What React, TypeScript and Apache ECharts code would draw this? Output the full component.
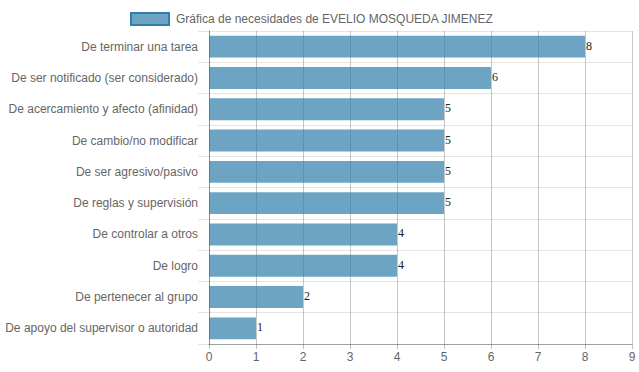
import React, { useEffect, useRef } from "react";
import * as echarts from "echarts";

const categories = [
  "De terminar una tarea",
  "De ser notificado (ser considerado)",
  "De acercamiento y afecto (afinidad)",
  "De cambio/no modificar",
  "De ser agresivo/pasivo",
  "De reglas y supervisión",
  "De controlar a otros",
  "De logro",
  "De pertenecer al grupo",
  "De apoyo del supervisor o autoridad",
];
const values = [8, 6, 5, 5, 5, 5, 4, 4, 2, 1];
const seriesName = "Gráfica de necesidades de EVELIO MOSQUEDA JIMENEZ";
const xTicks = [0, 1, 2, 3, 4, 5, 6, 7, 8, 9];

const FONT = "'Liberation Sans', Arial, Helvetica, sans-serif";

export default function App() {
  const ref = useRef<HTMLDivElement>(null);
  useEffect(() => {
    if (!ref.current) return;
    const chart = echarts.init(ref.current, null, { renderer: "svg" });
    chart.setOption({
      animation: false,
      textStyle: { fontFamily: FONT },
      legend: {
        top: 7,
        left: 125,
        itemWidth: 38,
        itemHeight: 12,
        itemGap: 10,
        icon: "rect",
        itemStyle: { borderColor: "#2f7fab", borderWidth: 2, color: "rgba(47,126,171,0.7)" },
        textStyle: { color: "#666", fontSize: 12, fontFamily: FONT, padding: [0, 0, 0, 2] },
        data: [seriesName],
      },
      grid: { left: 209, right: 7, top: 31, bottom: 28, containLabel: false },
      xAxis: {
        type: "value",
        min: xTicks[0],
        max: xTicks[xTicks.length - 1],
        interval: 1,
        axisLine: { show: true, lineStyle: { color: "rgba(0,0,0,0.3)" } },
        axisTick: { show: true, length: 5, lineStyle: { color: "rgba(0,0,0,0.25)" } },
        axisLabel: { color: "#666", fontSize: 12, margin: 7, fontFamily: FONT },
        splitLine: { show: true, lineStyle: { color: "rgba(0,0,0,0.22)" } },
      },
      yAxis: {
        type: "category",
        inverse: true,
        data: categories,
        axisLine: { show: true, lineStyle: { color: "rgba(0,0,0,0.3)" } },
        axisTick: { show: true, length: 11, lineStyle: { color: "rgba(0,0,0,0.1)" } },
        axisLabel: { color: "#666", fontSize: 12, margin: 11, fontFamily: FONT },
        splitLine: { show: true, lineStyle: { color: "rgba(0,0,0,0.1)" } },
      },
      series: [
        {
          name: seriesName,
          type: "bar",
          data: values,
          barCategoryGap: "30%",
          itemStyle: { color: "rgba(47,126,171,0.7)" },
          label: {
            show: true,
            position: "right",
            distance: 1,
            offset: [0, -1],
            color: "#222",
            fontSize: 12,
            fontWeight: "normal",
            fontFamily: "'Liberation Serif', 'Times New Roman', serif",
          },
        },
      ],
    });
    return () => chart.dispose();
  }, []);
  return <div ref={ref} style={{ width: 639, height: 372, position: "absolute", left: 0, top: 0 }} />;
}
